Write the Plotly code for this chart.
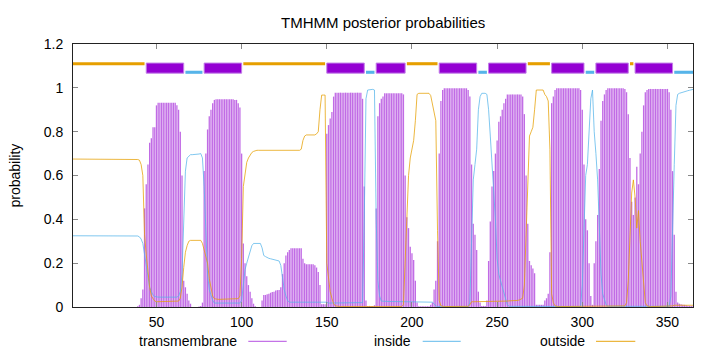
import plotly.graph_objects as go

# ---------------- data ----------------
positions = list(range(1, 366))

inside = ([0.325] * 38 + [0.324, 0.32,
          0.31, 0.29, 0.24, 0.17, 0.12, 0.09, 0.07, 0.055, 0.048, 0.045]
          + [0.045] * 12
          + [0.05, 0.07, 0.15, 0.40, 0.62, 0.68, 0.69, 0.695]
          + [0.695, 0.695, 0.695, 0.697, 0.698, 0.70, 0.68, 0.55, 0.30, 0.15]
          + [0.08, 0.05, 0.03]
          + [0.018] * 16
          + [0.03]
          + [0.10, 0.17, 0.20, 0.23, 0.25, 0.28, 0.29, 0.29, 0.29, 0.29]
          + [0.29, 0.27, 0.235, 0.23, 0.225, 0.222, 0.22, 0.218, 0.215, 0.213]
          + [0.212, 0.21, 0.19, 0.13, 0.08, 0.05, 0.03]
          + [0.022] * 23
          + [0.018] * 20
          + [0.02, 0.40, 0.95, 0.99, 0.992, 0.993, 0.993, 0.99, 0.40, 0.12]
          + [0.05]
          + [0.027, 0.026]
          + [0.025] * 28
          + [0.022, 0.015, 0.005, 0.002]
          + [0.001] * 17
          + [0.002, 0.02, 0.30, 0.58, 0.65, 0.72, 0.90, 0.96]
          + [0.975, 0.975, 0.975, 0.97, 0.90, 0.78, 0.65, 0.55, 0.40, 0.22]
          + [0.15, 0.12, 0.09, 0.06, 0.03, 0.01]
          + [0.003] * 14
          + [0.002] * 29
          + [0.10]
          + [0.35, 0.60, 0.65, 0.80, 0.95, 0.99, 0.80, 0.70, 0.58, 0.37]
          + [0.15, 0.06, 0.03, 0.01]
          + [0.003] * 37
          + [0.05, 0.30, 0.65, 0.92, 0.97, 0.975, 0.978, 0.98, 0.982]
          + [0.985, 0.987, 0.989, 0.991, 0.993])

outside = ([0.675] * 38 + [0.673, 0.67]
           + [0.65, 0.60, 0.33, 0.24, 0.15, 0.09, 0.05, 0.035, 0.027, 0.024]
           + [0.024] * 12
           + [0.027, 0.04, 0.09, 0.18, 0.25, 0.28, 0.30, 0.304]
           + [0.304] * 6
           + [0.29, 0.26, 0.24, 0.20]
           + [0.13, 0.08, 0.05, 0.038]
           + [0.035] * 13
           + [0.038, 0.05, 0.22]
           + [0.55, 0.62, 0.66, 0.68, 0.695, 0.705, 0.71, 0.713]
           + [0.715] * 26
           + [0.72, 0.76, 0.78]
           + [0.785] * 6
           + [0.79, 0.80, 0.90, 0.967, 0.967, 0.967, 0.20]
           + [0.12, 0.07, 0.04, 0.015, 0.005, 0.003]
           + [0.002] * 38
           + [0.01, 0.20, 0.47, 0.60, 0.68, 0.72]
           + [0.76, 0.85, 0.97]
           + [0.975] * 7
           + [0.965, 0.93, 0.89, 0.85, 0.35, 0.03, 0.005]
           + [0.002] * 15
           + [0.003, 0.01]
           + [0.024] * 6
           + [0.025] * 15
           + [0.027, 0.028, 0.028, 0.028, 0.029]
           + [0.03, 0.03, 0.032, 0.035, 0.04, 0.10, 0.35, 0.61, 0.78, 0.80]
           + [0.82, 0.90, 0.99, 0.99, 0.99, 0.99, 0.99, 0.97, 0.96, 0.94]
           + [0.72, 0.06, 0.02, 0.005]
           + [0.002] * 40
           + [0.005, 0.02, 0.12, 0.32, 0.52, 0.58]
           + [0.50, 0.36, 0.44, 0.30, 0.20, 0.08, 0.02, 0.005]
           + [0.002] * 13
           + [0.003, 0.005]
           + [0.008] * 12)

transmembrane = ([0.0] * 38 + [0.003, 0.01]
                 + [0.04, 0.08, 0.45, 0.56, 0.65, 0.75, 0.77, 0.82, 0.82, 0.92]
                 + [0.932] * 11
                 + [0.92, 0.90, 0.80, 0.60, 0.12, 0.09, 0.06, 0.03, 0.015]
                 + [0.0] * 4
                 + [0.002, 0.005, 0.02, 0.62, 0.70, 0.81]
                 + [0.87, 0.90, 0.93, 0.945]
                 + [0.948] * 11
                 + [0.945, 0.945, 0.93, 0.91, 0.70]
                 + [0.29, 0.20, 0.14, 0.10, 0.07, 0.04, 0.015, 0.003]
                 + [0.0] * 3
                 + [0.03, 0.055, 0.055, 0.058, 0.06, 0.065, 0.068, 0.07, 0.075]
                 + [0.077, 0.078, 0.09, 0.15, 0.20, 0.235, 0.25, 0.26]
                 + [0.268] * 7
                 + [0.22, 0.20]
                 + [0.195] * 5
                 + [0.19, 0.18, 0.16, 0.10, 0.013, 0.013, 0.013, 0.79]
                 + [0.83, 0.86, 0.89, 0.96]
                 + [0.978] * 16
                 + [0.95, 0.55, 0.03, 0.005, 0.005, 0.005, 0.005, 0.008, 0.45, 0.87]
                 + [0.93, 0.95, 0.96]
                 + [0.975] * 11
                 + [0.97, 0.60, 0.41, 0.36, 0.275, 0.245]
                 + [0.214, 0.12, 0.02]
                 + [0.003] * 7
                 + [0.01, 0.02, 0.08, 0.12, 0.30, 0.70, 0.94, 0.99]
                 + [0.998] * 14
                 + [0.99, 0.96, 0.65, 0.38, 0.33, 0.26, 0.07, 0.02]
                 + [0.005, 0.005, 0.005, 0.03, 0.21, 0.39, 0.55, 0.62, 0.70, 0.76]
                 + [0.845, 0.87, 0.90, 0.93, 0.95]
                 + [0.97] * 9
                 + [0.96, 0.88, 0.60, 0.38, 0.21, 0.19]
                 + [0.176, 0.154]
                 + [0.01] * 5
                 + [0.03, 0.04, 0.06]
                 + [0.25, 0.93, 0.96, 0.99]
                 + [0.998] * 14
                 + [0.99, 0.90]
                 + [0.65, 0.40, 0.35, 0.20, 0.05, 0.01, 0.20, 0.30, 0.42, 0.63]
                 + [0.85, 0.94, 0.97, 0.99]
                 + [0.998] * 10
                 + [0.995, 0.98, 0.88, 0.68, 0.48, 0.42]
                 + [0.50, 0.64, 0.56, 0.70, 0.80, 0.92, 0.98, 0.99]
                 + [0.995] * 12
                 + [0.98, 0.90, 0.62, 0.33, 0.07, 0.02, 0.015, 0.012, 0.01, 0.01]
                 + [0.008, 0.006, 0.005, 0.004, 0.003])

assert len(inside) == len(outside) == len(transmembrane) == len(positions)

# predicted topology (bars along the top)
seg_start = [1, 44, 67, 78, 101, 150, 173, 179, 197, 216, 239, 245, 268, 282, 302, 308, 328, 331, 354]
seg_end = [43, 66, 77, 100, 149, 172, 178, 196, 215, 238, 244, 267, 281, 301, 307, 327, 330, 353, 365]
seg_type = ["outside", "TMhelix", "inside", "TMhelix", "outside", "TMhelix", "inside",
            "TMhelix", "outside", "TMhelix", "inside", "TMhelix", "outside", "TMhelix",
            "inside", "TMhelix", "outside", "TMhelix", "inside"]

x_ticks = [50, 100, 150, 200, 250, 300, 350]
y_ticks = [0, 0.2, 0.4, 0.6, 0.8, 1.0, 1.2]
y_tick_text = ["0", "0.2", "0.4", "0.6", "0.8", "1", "1.2"]

title_text = "TMHMM posterior probabilities"
y_label = "probability"
legend_names = ["transmembrane", "inside", "outside"]

# ---------------- styling ----------------
TM_COLOR = "#9400D3"
IN_COLOR = "#56B4E9"
OUT_COLOR = "#E69F00"
IN_LINE = "rgba(86,180,233,0.75)"
OUT_LINE = "rgba(230,159,0,0.75)"
FONT = "Liberation Sans, Arial, sans-serif"

L, R, T, B = 73, 27, 44, 45
W, H = 720, 352
PW, PH = W - L - R, H - T - B


def px_to_paper_x(px):
    return (px - L) / PW


def py_to_paper_y(py):
    return (H - B - py) / PH


# impulses for the transmembrane probability
imp_x, imp_y = [], []
for p, v in zip(positions, transmembrane):
    imp_x += [p, p, None]
    imp_y += [0, v, None]

fig = go.Figure()
fig.add_trace(go.Scatter(x=imp_x, y=imp_y, mode="lines",
                         line=dict(color="rgba(148,0,211,0.58)", width=1.3),
                         hoverinfo="skip", showlegend=False))
fig.add_trace(go.Scatter(x=positions, y=inside, mode="lines",
                         line=dict(color=IN_LINE, width=1), showlegend=False))
fig.add_trace(go.Scatter(x=positions, y=outside, mode="lines",
                         line=dict(color=OUT_LINE, width=1), showlegend=False))

shapes = []
for s, e, t in zip(seg_start, seg_end, seg_type):
    if t == "TMhelix":
        shapes.append(dict(type="rect", xref="x", yref="y", x0=s, x1=e, y0=1.067, y1=1.113,
                           fillcolor=TM_COLOR, line=dict(color="#c27ee8", width=1)))
    elif t == "inside":
        shapes.append(dict(type="rect", xref="x", yref="y", x0=s, x1=e, y0=1.064, y1=1.078,
                           fillcolor=IN_COLOR, line=dict(width=0)))
    else:
        shapes.append(dict(type="rect", xref="x", yref="y", x0=s, x1=e, y0=1.103, y1=1.117,
                           fillcolor=OUT_COLOR, line=dict(width=0)))

# legend drawn gnuplot-style (text, then line sample)
legend_text_right = [239.3, 412.7, 586.7]
legend_line = [(248.3, 286.7), (422.7, 460.7), (596.0, 635.3)]
legend_colors = ["rgba(148,0,211,0.55)", IN_LINE, OUT_LINE]
annotations = []
for name, xr, (l0, l1), c in zip(legend_names, legend_text_right, legend_line, legend_colors):
    annotations.append(dict(text=name, xref="paper", yref="paper", x=px_to_paper_x(xr),
                            y=py_to_paper_y(340.5), xanchor="right", yanchor="middle",
                            showarrow=False, font=dict(family=FONT, size=14, color="black")))
    shapes.append(dict(type="line", xref="paper", yref="paper", x0=px_to_paper_x(l0),
                       x1=px_to_paper_x(l1), y0=py_to_paper_y(341.3), y1=py_to_paper_y(341.3),
                       line=dict(color=c, width=1.2)))

annotations.append(dict(text=title_text, xref="paper", yref="paper", x=0.5,
                        y=py_to_paper_y(22.5), xanchor="center", yanchor="middle",
                        showarrow=False, font=dict(family=FONT, size=15, color="black")))
annotations.append(dict(text=y_label, xref="paper", yref="paper", x=px_to_paper_x(14),
                        y=0.5, xanchor="center", yanchor="middle", textangle=-90,
                        showarrow=False, font=dict(family=FONT, size=14, color="black")))

axis_common = dict(showline=True, linecolor="#222222", linewidth=1, mirror="ticks",
                   ticks="inside", ticklen=5, tickcolor="#888888", tickwidth=1,
                   showgrid=False, zeroline=False,
                   tickfont=dict(family=FONT, size=14, color="black"))

fig.update_layout(
    width=W, height=H,
    margin=dict(l=L, r=R, t=T, b=B, pad=0),
    paper_bgcolor="white", plot_bgcolor="white",
    xaxis=dict(range=[1, 365], tickmode="array", tickvals=x_ticks, ticklabelstandoff=2,
               **axis_common),
    yaxis=dict(range=[0, 1.2], tickmode="array", tickvals=y_ticks, ticktext=y_tick_text,
               ticklabelstandoff=6, **axis_common),
    shapes=shapes,
    annotations=annotations,
    showlegend=False,
)

fig.write_html("out.html")
